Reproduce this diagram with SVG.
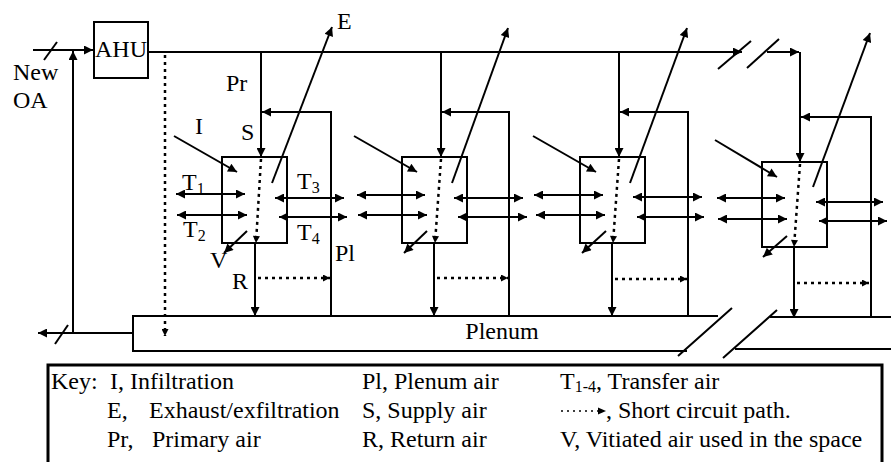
<svg xmlns="http://www.w3.org/2000/svg" width="891" height="462" viewBox="0 0 891 462" font-family="'Liberation Serif', 'DejaVu Serif', serif">
<defs>
<marker id="ah" viewBox="0 0 10 10" refX="10" refY="5" markerUnits="userSpaceOnUse" markerWidth="11" markerHeight="9" orient="auto-start-reverse"><path d="M0,0 L10,5 L0,10 z" fill="#000"/></marker>
<marker id="as" viewBox="0 0 10 10" refX="10" refY="5" markerUnits="userSpaceOnUse" markerWidth="8" markerHeight="7" orient="auto"><path d="M0,0 L10,5 L0,10 z" fill="#000"/></marker>
</defs>
<style>
.ln{stroke:#000;stroke-width:2;fill:none}
.ar{stroke:#000;stroke-width:2;fill:none;marker-end:url(#ah)}
.da{stroke:#000;stroke-width:2;fill:none;marker-start:url(#ah);marker-end:url(#ah)}
.dt{stroke:#000;stroke-width:2.5;fill:none;stroke-dasharray:3 4;marker-end:url(#as)}
.bx{stroke:#000;stroke-width:2;fill:#fff}
text{font-family:'Liberation Serif','DejaVu Serif',serif;font-size:24px;fill:#000}
.k{font-size:24px}
.sub{font-size:16px}
</style>
<rect width="891" height="462" fill="#fff"/>

<g id="ahu">
<rect class="bx" x="94" y="22" width="54" height="56"/>
<text x="121" y="57" text-anchor="middle" font-size="21">AHU</text>
</g>

<g id="new-oa">
<text x="13" y="80">New</text>
<text x="13" y="108">OA</text>
</g>

<g id="plenum">
<path class="ln" d="M718,316 H133 V351 H687"/>
<path class="ln" d="M891,317 H770 M735,349 H891"/>
<path class="ln" d="M678,356 L732,308 M723,358 L777,310"/>
<text x="502" y="339" text-anchor="middle">Plenum</text>
</g>

<g id="connectors">
<line class="ar" x1="33" y1="50" x2="93" y2="50"/>
<line class="ln" x1="44" y1="60" x2="57" y2="42"/>
<line class="ar" x1="73" y1="333" x2="73" y2="51"/>
<line class="ar" x1="133" y1="333" x2="38" y2="333"/>
<line class="ln" x1="55" y1="344" x2="68" y2="325"/>
<line class="ar" x1="148" y1="52" x2="742" y2="52"/>
<line class="ln" x1="718" y1="69" x2="751" y2="41"/>
<line class="ln" x1="747" y1="68" x2="779" y2="39"/>
<line class="ar" x1="767" y1="52" x2="799" y2="52"/>
<line class="dt" x1="165" y1="55" x2="165" y2="336"/>

<line class="ar" x1="261" y1="52" x2="261" y2="157"/>
<path class="ar" d="M331,316 V112 H262"/>
<line class="ar" x1="174" y1="136" x2="237" y2="172"/>
<line class="ar" x1="272" y1="183" x2="332" y2="27"/>
<line class="ar" x1="247" y1="231" x2="224" y2="253"/>
<line class="da" x1="176" y1="194" x2="245" y2="194"/>
<line class="da" x1="177" y1="215" x2="247" y2="215"/>
<line class="da" x1="275" y1="198" x2="344" y2="198"/>
<line class="da" x1="279" y1="217" x2="347" y2="217"/>
<line class="ar" x1="255" y1="243" x2="255" y2="316"/>
<line class="dt" x1="258" y1="278" x2="330" y2="278"/>

<line class="ar" x1="441" y1="52" x2="441" y2="157"/>
<path class="ar" d="M509,316 V112 H442"/>
<line class="ar" x1="354" y1="136" x2="417" y2="172"/>
<line class="ar" x1="452" y1="183" x2="508" y2="28"/>
<line class="ar" x1="427" y1="231" x2="404" y2="253"/>
<line class="da" x1="357" y1="195" x2="425" y2="195"/>
<line class="da" x1="358" y1="215" x2="427" y2="215"/>
<line class="da" x1="454" y1="198" x2="523" y2="198"/>
<line class="da" x1="458" y1="217" x2="527" y2="217"/>
<line class="ar" x1="434" y1="243" x2="434" y2="316"/>
<line class="dt" x1="437" y1="278" x2="508" y2="278"/>

<line class="ar" x1="619" y1="52" x2="619" y2="157"/>
<path class="ar" d="M688,316 V112 H620"/>
<line class="ar" x1="533" y1="136" x2="596" y2="172"/>
<line class="ar" x1="630" y1="183" x2="687" y2="28"/>
<line class="ar" x1="606" y1="231" x2="582" y2="253"/>
<line class="da" x1="534" y1="195" x2="603" y2="195"/>
<line class="da" x1="536" y1="215" x2="605" y2="215"/>
<line class="da" x1="633" y1="197" x2="702" y2="197"/>
<line class="da" x1="637" y1="217" x2="704" y2="217"/>
<line class="ar" x1="612" y1="243" x2="612" y2="316"/>
<line class="dt" x1="615" y1="279" x2="687" y2="279"/>

<line class="ar" x1="800" y1="52" x2="800" y2="162"/>
<path class="ar" d="M871,318 V117 H801"/>
<line class="ar" x1="715" y1="140" x2="777" y2="177"/>
<line class="ar" x1="813" y1="187" x2="870" y2="33"/>
<line class="ar" x1="787" y1="236" x2="763" y2="257"/>
<line class="da" x1="717" y1="198" x2="785" y2="198"/>
<line class="da" x1="718" y1="219" x2="787" y2="219"/>
<line class="da" x1="816" y1="202" x2="883" y2="202"/>
<line class="da" x1="819" y1="221" x2="887" y2="221"/>
<line class="ar" x1="794" y1="247" x2="794" y2="318"/>
<line class="dt" x1="797" y1="283" x2="869" y2="283"/>
</g>

<g id="room1">
<rect class="ln" x="222" y="157" width="65" height="86"/>
<line class="dt" x1="261" y1="159" x2="256" y2="243"/>
</g>
<g id="room2">
<rect class="ln" x="402" y="157" width="65" height="86"/>
<line class="dt" x1="441" y1="159" x2="435" y2="243"/>
</g>
<g id="room3">
<rect class="ln" x="580" y="157" width="65" height="86"/>
<line class="dt" x1="619" y1="159" x2="613" y2="243"/>
</g>
<g id="room4">
<rect class="ln" x="762" y="162" width="65" height="85"/>
<line class="dt" x1="800" y1="164" x2="794" y2="247"/>
</g>

<g id="labels">
<text x="226" y="91">Pr</text>
<text x="241" y="140">S</text>
<text x="195" y="134">I</text>
<text x="337" y="29">E</text>
<text x="182" y="190">T<tspan class="sub" dy="4">1</tspan></text>
<text x="183" y="237">T<tspan class="sub" dy="4">2</tspan></text>
<text x="297" y="189">T<tspan class="sub" dy="4">3</tspan></text>
<text x="297" y="240">T<tspan class="sub" dy="4">4</tspan></text>
<text x="210" y="268">V</text>
<text x="232" y="289">R</text>
<text x="335" y="261">Pl</text>
</g>

<g id="key">
<rect x="48" y="365" width="834" height="110" fill="none" stroke="#000" stroke-width="3"/>
<text class="k" x="51" y="389">Key:</text>
<text class="k" x="110" y="389">I, Infiltration</text>
<text class="k" x="107" y="418">E,</text>
<text class="k" x="149" y="418">Exhaust/exfiltration</text>
<text class="k" x="107" y="447">Pr,</text>
<text class="k" x="152" y="447">Primary air</text>
<text class="k" x="362" y="389">Pl, Plenum air</text>
<text class="k" x="362" y="418">S, Supply air</text>
<text class="k" x="362" y="447">R, Return air</text>
<text class="k" x="560" y="389">T<tspan class="sub" dy="3">1-4</tspan><tspan dy="-3">, Transfer air</tspan></text>
<line x1="561" y1="411" x2="598" y2="411" stroke="#000" stroke-width="1.5" stroke-dasharray="2 4"/>
<path d="M598,407.5 L606,411 L598,414.5 z" fill="#000"/>
<text class="k" x="606" y="418">, Short circuit path.</text>
<text class="k" x="560" y="447">V, Vitiated air used in the space</text>
</g>
</svg>
